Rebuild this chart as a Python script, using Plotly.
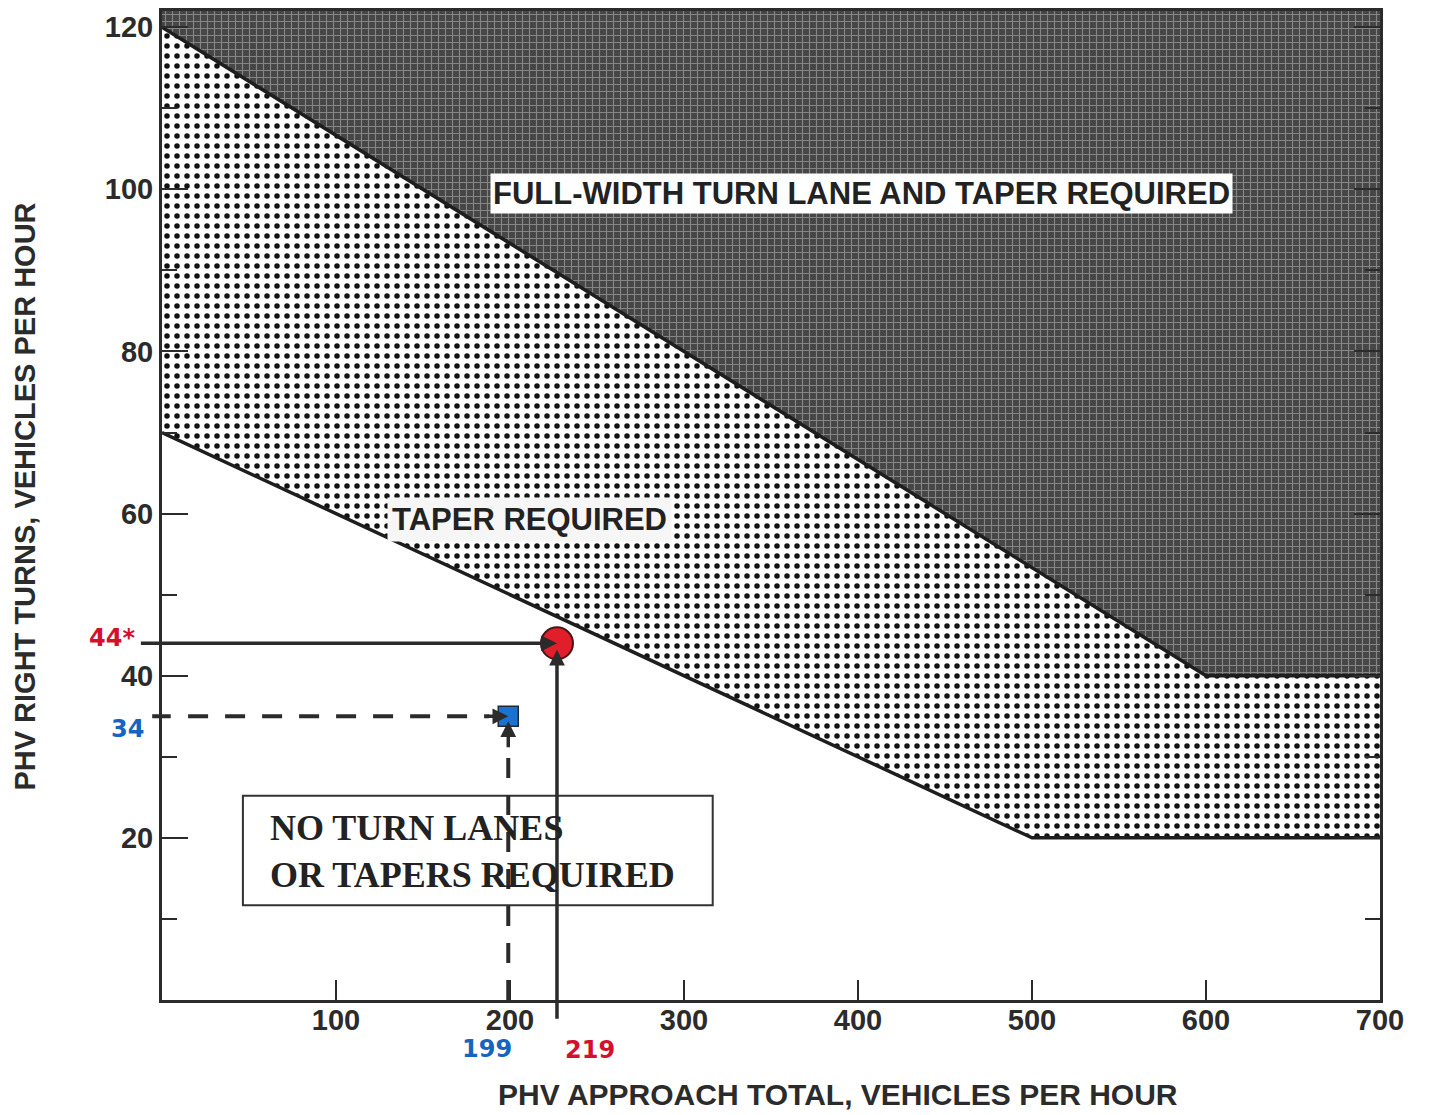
import plotly.graph_objects as go

# boundary lines of the warrant chart
upper_x = [0, 600, 700]
upper_y = [120, 40, 40]
lower_x = [0, 500, 700]
lower_y = [70, 20, 20]
y_max = 122

x_ticks = [100, 200, 300, 400, 500, 600, 700]
y_ticks = [20, 40, 60, 80, 100, 120]
y_minor = [10, 30, 50, 70, 90, 110]

# plotted study points (as drawn) and their labels
red_x, red_y = 227, 44
blue_x, blue_y = 199, 35
red_x_label, red_y_label = "219", "44*"
blue_x_label, blue_y_label = "199", "34"

INK = "#2b2b2b"
SANS = "Liberation Sans"

fig = go.Figure()

# dark zone: full-width turn lane
fig.add_trace(
    go.Scatter(
        x=upper_x + [upper_x[-1], upper_x[0]],
        y=upper_y + [y_max, y_max],
        fill="toself",
        mode="none",
        fillcolor="#464646",
        fillpattern=dict(shape="+", bgcolor="#464646", fgcolor="#858585", fgopacity=1,
                         size=7, solidity=0.3),
        hoverinfo="skip",
    )
)

# dotted zone: taper required
fig.add_trace(
    go.Scatter(
        x=upper_x + lower_x[::-1],
        y=upper_y + lower_y[::-1],
        fill="toself",
        mode="none",
        fillcolor="white",
        fillpattern=dict(shape=".", bgcolor="white", fgcolor="#111", fgopacity=1,
                         size=10, solidity=0.24),
        hoverinfo="skip",
    )
)

for bx, by in [(upper_x, upper_y), (lower_x, lower_y)]:
    fig.add_trace(go.Scatter(x=bx, y=by, mode="lines", line=dict(color="#1e1e1e", width=3.5), hoverinfo="skip"))

# dashed leaders to the blue point
fig.add_trace(
    go.Scatter(
        x=[15, 188], y=[blue_y, blue_y], mode="lines",
        line=dict(color=INK, width=4, dash="20px,17px"), hoverinfo="skip",
    )
)
fig.add_trace(
    go.Scatter(
        x=[blue_x, blue_x], y=[0, 31], mode="lines",
        line=dict(color=INK, width=4, dash="20px,17px"), hoverinfo="skip",
    )
)

fig.add_trace(
    go.Scatter(
        x=[blue_x], y=[blue_y], mode="markers",
        marker=dict(symbol="square", size=20, color="#1a73d0", line=dict(width=1.5, color="#1d2a3a")),
    )
)
fig.add_trace(
    go.Scatter(
        x=[red_x], y=[red_y], mode="markers",
        marker=dict(size=32, color="#e11f2b", line=dict(width=2, color="#4a1518")),
    )
)

# box behind "no turn lanes" text
fig.add_shape(
    type="rect", x0=46.5, x1=316.5, y0=11.7, y1=25.2,
    line=dict(color="#333", width=2), fillcolor="white", layer="below",
)

arrow = dict(text="", showarrow=True, arrowcolor=INK, arrowhead=2, arrowsize=0.9, arrowwidth=3.5,
             axref="x", ayref="y", xref="x", yref="y")
fig.add_annotation(x=red_x, y=red_y, ax=-13, ay=red_y, **arrow)
fig.add_annotation(x=red_x, y=red_y - 0.8, ax=red_x, ay=-2.5, **arrow)
fig.add_annotation(x=blue_x, y=blue_y, ax=187, ay=blue_y, **arrow)
fig.add_annotation(x=blue_x, y=blue_y - 0.6, ax=blue_x, ay=31, **arrow)
fig.add_annotation(x=5, y=blue_y, ax=-6.5, ay=blue_y, **{**arrow, "arrowhead": 0, "arrowwidth": 4})

zone_font = dict(family=SANS, size=31, color="#222", weight="bold")
fig.add_annotation(x=402, y=99.5, text="FULL-WIDTH TURN LANE AND TAPER REQUIRED", showarrow=False,
                   font=zone_font, bgcolor="white", borderpad=2)
fig.add_annotation(x=211, y=59.3, text="TAPER REQUIRED", showarrow=False,
                   font=zone_font, bgcolor="#f6f6f6", borderpad=4)
fig.add_annotation(x=61, y=18.3, xanchor="left", align="left", showarrow=False,
                   text="NO TURN LANES<br>OR TAPERS REQUIRED",
                   font=dict(family="Liberation Serif", size=36, color="#222", weight="bold"))

lab_font = dict(family="DejaVu Sans", size=24, weight="bold")
fig.add_annotation(xref="paper", x=-0.041, xanchor="center", y=red_y + 0.7, text=red_y_label,
                   showarrow=False, font={**lab_font, "color": "#d4102e"})
fig.add_annotation(xref="paper", x=-0.028, xanchor="center", y=blue_y - 1.6, text=blue_y_label,
                   showarrow=False, font={**lab_font, "color": "#1565c0"})
fig.add_annotation(yref="paper", x=187, y=-0.05, yanchor="middle", text=blue_x_label,
                   showarrow=False, font={**lab_font, "color": "#1565c0"})
fig.add_annotation(yref="paper", x=246, y=-0.051, yanchor="middle", text=red_x_label,
                   showarrow=False, font={**lab_font, "color": "#d4102e"})

fig.add_annotation(xref="paper", yref="paper", x=0.555, y=-0.096, xanchor="center", yanchor="middle",
                   showarrow=False, text="PHV APPROACH TOTAL, VEHICLES PER HOUR",
                   font=dict(family=SANS, size=30, color=INK, weight="bold"))
fig.add_annotation(xref="paper", yref="paper", x=-0.1125, y=0.509, xanchor="center", yanchor="middle",
                   showarrow=False, textangle=-90, text="PHV RIGHT TURNS, VEHICLES PER HOUR",
                   font=dict(family=SANS, size=29, color=INK, weight="bold"))

tick_font = dict(family=SANS, size=29, color=INK, weight="bold")
fig.update_xaxes(
    range=[0, 700], tickvals=x_ticks, ticks="inside", ticklen=20, tickwidth=2, tickcolor=INK,
    showline=True, linecolor=INK, linewidth=3, mirror=True, showgrid=False, zeroline=False,
    tickfont=tick_font, ticklabelstandoff=-8,
)
fig.update_yaxes(
    range=[0, y_max], tickvals=y_ticks, ticks="inside", ticklen=26, tickwidth=2, tickcolor=INK,
    minor=dict(tickvals=y_minor, ticks="inside", ticklen=15, tickwidth=2, tickcolor=INK),
    showline=True, linecolor=INK, linewidth=3, mirror="ticks", showgrid=False, zeroline=False,
    tickfont=tick_font,
)
fig.update_layout(
    width=1422, height=1107,
    margin=dict(l=154, r=50, t=0, b=115),
    paper_bgcolor="white", plot_bgcolor="white",
    showlegend=False,
)
fig.write_html("out.html")
